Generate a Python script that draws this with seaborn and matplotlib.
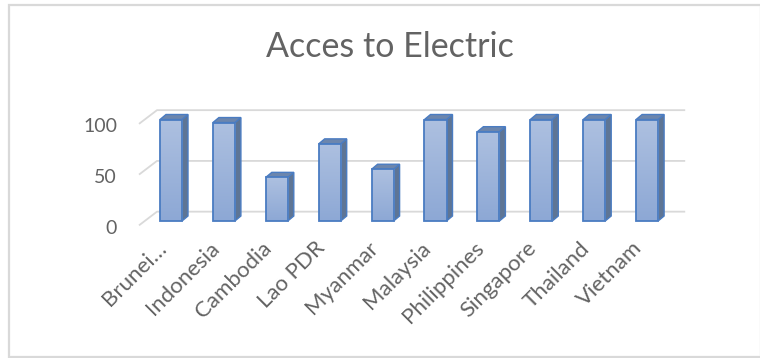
import numpy as np
import pandas as pd
import matplotlib
matplotlib.use("Agg")
import matplotlib.pyplot as plt
from matplotlib.patches import Polygon, Rectangle
from matplotlib.colors import LinearSegmentedColormap
import seaborn as sns

# Access to electricity (% of population)
countries = ["Brunei…", "Indonesia", "Cambodia", "Lao PDR", "Myanmar",
             "Malaysia", "Philippines", "Singapore", "Thailand", "Vietnam"]
access = [100, 97, 43, 76, 51, 100, 88, 100, 100, 100]
y_ticks = [0, 50, 100]
title = "Acces to Electric"

sns.set_theme(style="white")
plt.rcParams["font.family"] = ["Lato", "DejaVu Sans"]

W, H = 760, 358
fig = plt.figure(figsize=(W / 100, H / 100), dpi=100)


def px_box(left, top, right, bottom):
    return [left / W, 1 - bottom / H, (right - left) / W, (bottom - top) / H]


# layout of the plotting area, in pixels
ax_l, ax_t, ax_r, ax_b = 60, 100, 700, 235
first_px, pitch_px = 171.0, 52.9        # first category centre, category pitch
base_px, unit_px = 221.0, 1.015         # baseline row, pixels per percent

ax = fig.add_axes(px_box(ax_l, ax_t, ax_r, ax_b))
ax.axis("off")

df = pd.DataFrame({"country": countries, "access": access})

edge = "#4A7CC2"
sns.barplot(data=df, x="country", y="access", ax=ax, width=0.416,
            color="#9DB4DA", edgecolor=edge, linewidth=1.3, saturation=1,
            zorder=3)

# depth of the 3-D bars and of the walls, in data units
bdx, bdy = 6 / pitch_px, 5 / unit_px
wall_front_x, wall_back_x, wall_end_x = -0.605, -0.265, 9.72
wall_front_dy, wall_back_dy = -4.3, 9.2

grid_c = "#D9D9D9"
for v in y_ticks:
    ax.plot([wall_front_x, wall_back_x, wall_end_x],
            [v + wall_front_dy, v + wall_back_dy, v + wall_back_dy],
            color=grid_c, lw=1.3, zorder=1, solid_capstyle="butt")
    ax.annotate(f"{v}", xy=(-1.02, v + wall_front_dy), xycoords="data",
                xytext=(0, -3), textcoords="offset pixels",
                ha="right", va="center", fontsize=14, color="#636363",
                annotation_clip=False)

grad = LinearSegmentedColormap.from_list("face", ["#8DA8D5", "#ADC0E0"])
for p in list(ax.patches):
    x0, w, h = p.get_x(), p.get_width(), p.get_height()
    x1 = x0 + w
    side = Polygon([(x1, 0), (x1, h), (x1 + bdx, h + bdy), (x1 + bdx, bdy)],
                   closed=True, facecolor="#5E7595", edgecolor=edge,
                   lw=1.0, zorder=2)
    top = Polygon([(x0, h), (x0 + bdx, h + bdy), (x1 + bdx, h + bdy), (x1, h)],
                  closed=True, facecolor="#6C86AD", edgecolor=edge,
                  lw=1.0, zorder=2)
    ax.add_patch(side)
    ax.add_patch(top)
    img = ax.imshow(np.linspace(0, 1, 64).reshape(-1, 1), cmap=grad,
                    extent=[x0, x1, 0, h], origin="lower", aspect="auto",
                    zorder=3.5)
    img.set_clip_path(p)
    p.set_facecolor("none")
    p.set_zorder(4)

ax.set_xlim((ax_l - first_px) / pitch_px, (ax_r - first_px) / pitch_px)
ax.set_ylim((base_px - ax_b) / unit_px, (base_px - ax_t) / unit_px)

# rotated category labels
for i, name in enumerate(countries):
    ax.annotate(name, xy=(i, 0), xycoords="data", xytext=(-15, -17),
                textcoords="offset pixels", rotation=45, ha="right",
                va="top", rotation_mode="anchor", fontsize=16,
                color="#636363", annotation_clip=False)

fig.text(390 / W, 1 - 47 / H, title, ha="center", va="center",
         fontsize=24.5, color="#636363")

fig.add_artist(Rectangle((8.5 / W, 1 - 357 / H), (W - 8) / W, 352 / H,
                         transform=fig.transFigure, fill=False,
                         edgecolor="#D9D9D9", lw=1.6))

fig.savefig("out.png", dpi=100, facecolor="white")
